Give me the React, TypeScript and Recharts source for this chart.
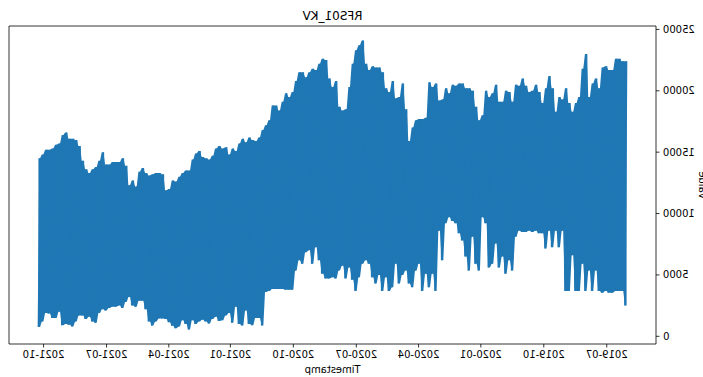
import React from 'react'
import {
    Area,
    ComposedChart,
    Label,
    Line,
    ReferenceArea,
    XAxis,
    YAxis,
} from 'recharts'

// RFS01_KV readings, sampled every ~4.9 days starting 2019-06-02.
// Each sample holds the swing's high and low; the trace alternates between them.
const START = Date.UTC(2019, 5, 2)
const STEP_DAYS = 4.87

const HIGH = [
    22400, 22400, 22600, 22600, 21700, 21700, 22000, 21900, 20200, 21000, 20600, 19500, 23000, 21800, 19500, 19000,
    18300, 19000, 20200, 19300, 19500, 18300, 20200, 21200, 20200, 19000, 19900, 20500, 20000, 19900, 20400, 21000,
    20400, 20500, 19100, 19900, 20000, 19100, 19100, 20500, 19800, 19500, 20000, 18000, 17600, 18700, 20000, 20200,
    20200, 20600, 20600, 20400, 20500, 19800, 20200, 19300, 19200, 20600,
    20300, 20700, 17800, 17700, 17700, 17600, 17000, 15900, 18500, 20600, 19500, 19400, 20800, 19900, 20200, 21500,
    21900, 21900, 22000, 21700, 22200, 24100, 23700, 23300, 22200, 20300, 18500, 18400, 18700, 20800, 20300, 21000,
    22500, 22600, 22200, 21700, 21800, 21500, 21100, 21500, 21500, 20800, 19900, 19500, 19800, 19100, 18400, 18800,
    18800, 17600, 17200, 16800, 16200, 15900, 16000, 16200, 15800, 16100, 15700, 15100, 15300,
    14800, 15400, 15300, 15500, 15300, 14700, 14400, 14500, 14600, 15100, 14900, 14400, 13500, 13500, 13300, 13000,
    12600, 12700, 12000, 11900, 13200, 13300, 13300, 13200, 13100, 13300, 13700, 13400, 12200, 12700, 12300, 13900,
    14500, 14200, 14200, 14200, 14000, 14000, 15000, 14300, 13800, 13600, 13300, 13600, 14300, 15500, 16000, 16100,
    16100, 16600, 16400, 15700, 15600, 15300, 15200, 15200, 14800, 14500,
]

const LOW = [
    2500, 3700, 3700, 3700, 3550, 3550, 3700, 3550, 3700, 5350, 3700, 5350, 3700, 5900, 3700, 3700,
    6600, 3700, 3700, 8600, 7250, 8600, 7250, 8600, 7150, 8400, 8400, 8600, 8500, 8600, 8500, 8500,
    8600, 8100, 5350, 6200, 5100, 6500, 5600, 7550, 5900, 5600, 9200, 9700, 5350, 5900, 8100, 5350,
    6500, 7800, 8400, 9200, 9400, 9700, 9200, 6200, 8600, 3700,
    5100, 4000, 5100, 3700, 5900, 5350, 4000, 4300, 5350, 5000, 4300, 5900, 4000, 3700, 4800, 3700,
    5000, 4300, 4800, 5900, 6200, 5900, 4800, 3700, 4600, 5600, 4700, 5750, 5350, 4700, 4800, 4700,
    4700, 5100, 6200, 7250, 5900, 7000, 6850, 5900, 6200, 5350, 3800, 3800, 3800, 3850, 3850, 3850,
    3850, 3700, 3600, 870, 1500, 1500, 900, 1000, 2100, 870, 1000, 2400, 1100,
    1900, 1700, 1300, 1250, 1600, 1400, 1050, 1200, 1350, 1200, 1000, 1300, 550, 1000, 1300, 800,
    650, 850, 1150, 1400, 1450, 1450, 1200, 870, 1200, 2200, 2900, 2900, 2400, 2500, 3200, 2800,
    2300, 2500, 2400, 2400, 2300, 2100, 2200, 1900, 1100, 1200, 1600, 1400, 1700, 1700, 1200, 800,
    950, 1000, 900, 2000, 1500, 1500, 1850, 1900, 1200, 750,
]

const X_TICK_LABELS = [
    '2019-07', '2019-10', '2020-01', '2020-04', '2020-07',
    '2020-10', '2021-01', '2021-04', '2021-07', '2021-10',
]
const Y_TICKS = [0, 5000, 10000, 15000, 20000, 25000]

const DAY = 86400000
const BLUE = '#1f77b4'

const rows = HIGH.flatMap((hi, i) => {
    const t = START + i * STEP_DAYS * DAY
    const lo = LOW[i]
    return [
        { t, v: hi, lo, hi },
        { t: t + (STEP_DAYS * DAY) / 2, v: lo, lo, hi },
    ]
})

// matplotlib-style 5% margins around the data
const tMin = rows[0].t
const tMax = rows[rows.length - 1].t
const tPad = (tMax - tMin) * 0.05
const xDomain: [number, number] = [tMin - tPad, tMax + tPad]

const vMin = Math.min(...LOW)
const vMax = Math.max(...HIGH)
const vPad = (vMax - vMin) * 0.05
const yDomain: [number, number] = [vMin - vPad, vMax + vPad]

const xTicks = X_TICK_LABELS.map((s) => Date.UTC(Number(s.slice(0, 4)), Number(s.slice(5)) - 1, 1))

const fmtMonth = (t: number) => {
    const d = new Date(t)
    return `${d.getUTCFullYear()}-${String(d.getUTCMonth() + 1).padStart(2, '0')}`
}

const tickStyle = { fill: '#000', fontSize: 10, fontFamily: 'DejaVu Sans' }

export default function App() {
    return (
        <div
            style={{
                position: 'absolute',
                left: 0,
                top: 0,
                width: 703,
                height: 377,
                background: '#fff',
                fontFamily: 'DejaVu Sans',
                transform: 'scaleX(-1)',
            }}
        >
            <ComposedChart
                width={703}
                height={377}
                data={rows}
                margin={{ top: 26, right: 9, bottom: 0, left: 0 }}
            >
                <XAxis
                    dataKey="t"
                    type="number"
                    scale="linear"
                    domain={xDomain}
                    allowDataOverflow
                    ticks={xTicks}
                    interval={0}
                    tickFormatter={fmtMonth}
                    height={33}
                    axisLine={false}
                    tickLine={{ stroke: '#000', strokeWidth: 0.8 }}
                    tickSize={3.5}
                    tickMargin={3.5}
                    tick={tickStyle}
                >
                    <Label value="Timestamp" position="insideBottom" offset={4} fill="#000" fontSize={10} />
                </XAxis>
                <YAxis
                    type="number"
                    domain={yDomain}
                    allowDataOverflow
                    ticks={Y_TICKS}
                    interval={0}
                    width={47}
                    axisLine={false}
                    tickLine={{ stroke: '#000', strokeWidth: 0.8 }}
                    tickSize={3.5}
                    tickMargin={3.5}
                    tick={tickStyle}
                >
                    <Label
                        value="value"
                        angle={-90}
                        position="insideLeft"
                        offset={0}
                        fill="#000"
                        fontSize={10}
                        style={{ textAnchor: 'middle' }}
                    />
                </YAxis>
                {/* band between each swing's low and high, with the raw trace on top */}
                <Area
                    type="linear"
                    dataKey={(d: { lo: number; hi: number }) => [d.lo, d.hi]}
                    fill={BLUE}
                    fillOpacity={1}
                    stroke="none"
                    isAnimationActive={false}
                />
                <Line
                    type="linear"
                    dataKey="v"
                    stroke={BLUE}
                    strokeWidth={1.5}
                    dot={false}
                    isAnimationActive={false}
                />
                <ReferenceArea
                    x1={xDomain[0]}
                    x2={xDomain[1]}
                    y1={yDomain[0]}
                    y2={yDomain[1]}
                    fill="none"
                    fillOpacity={0}
                    stroke="#000"
                    strokeWidth={0.8}
                    ifOverflow="visible"
                >
                    <Label value="RFS01_KV" position="top" offset={6} fill="#000" fontSize={12} />
                </ReferenceArea>
            </ComposedChart>
        </div>
    )
}
